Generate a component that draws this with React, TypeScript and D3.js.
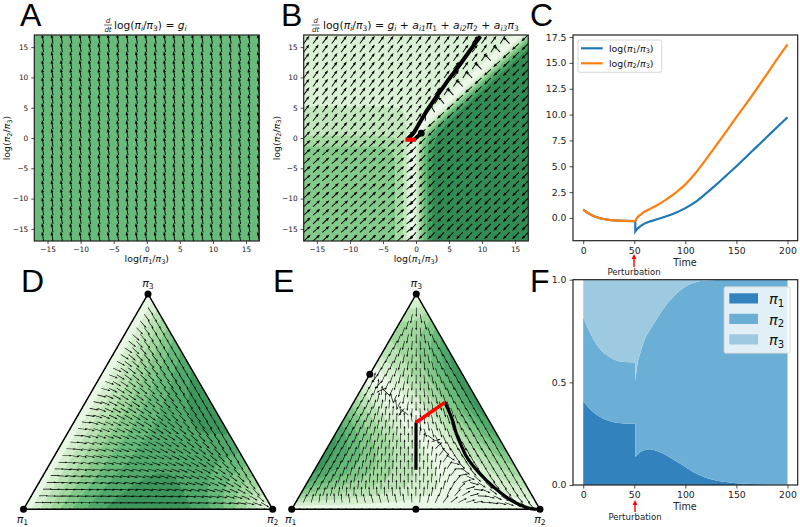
import React, { useEffect, useRef } from "react";
import * as d3 from "d3";

// trajectory of log(pi1/pi3) and log(pi2/pi3), before and after the perturbation
const timePre = [0, 5, 10, 15, 20, 25, 30, 40, 51];
const logPre = [0.8, 0.45, 0.2, 0.02, -0.1, -0.18, -0.24, -0.29, -0.3];
const timePost = [51, 53, 56, 60, 65, 70, 80, 90, 100, 110, 120, 130, 140, 150, 160, 170, 180, 190, 200];
const log1Post = [-1.3, -1.05, -0.8, -0.55, -0.35, -0.2, 0.12, 0.48, 0.95, 1.55, 2.35, 3.2, 4.1, 5.0, 5.95, 6.9, 7.85, 8.8, 9.75];
const log2Post = [-0.3, 0.05, 0.3, 0.6, 0.85, 1.1, 1.7, 2.4, 3.25, 4.35, 5.65, 7.0, 8.35, 9.75, 11.1, 12.5, 13.95, 15.4, 16.8];

// growth rates read from the arrows: no interactions (A, D) and with interactions (B, E)
const growthA: number[] = [-0.13, 0.8];
const growthD: number[] = [-0.03, 0.8];
const vel1: number[] = [-0.46, -0.507];
const vel2: number[] = [0.095, 0.142];
const vel3: number[] = [0.274, 0.274];

const logTicks = [-15, -10, -5, 0, 5, 10, 15];
const cTicksY = [0, 2.5, 5, 7.5, 10, 12.5, 15, 17.5];
const timeTicks = [0, 50, 100, 150, 200];
const fTicksY = [0, 0.5, 1];
const edgeDot = [0.373, 0, 0.627]; // fixed point on the pi1-pi3 edge
const midDot = [0.5, 0.5, 0];

const blues = ["#3182bd", "#6baed6", "#9ecae1"];
const FONT = "DejaVu Sans";

const softmax = (x: number, y: number) => {
  const a = Math.exp(x), b = Math.exp(y), s = a + b + 1;
  return [a / s, b / s, 1 / s];
};

const green = (t: number) => {
  const c = d3.rgb(d3.interpolateGreens(t));
  const m = (v: number) => Math.round(v * 0.85 + 255 * 0.15);
  return `rgb(${m(c.r)},${m(c.g)},${m(c.b)})`;
};

// piecewise growth at composition p with interactions
const mixVel = (p: number[]) => [
  p[0] * vel1[0] + p[1] * vel2[0] + p[2] * vel3[0],
  p[0] * vel1[1] + p[1] * vel2[1] + p[2] * vel3[1],
];

// replicator flow on the simplex for a growth vector (f1, f2, 0)
const simplexFlow = (p: number[], f: number[]) => {
  const fs = [f[0], f[1], 0];
  const m = d3.sum(p, (v, i) => v * fs[i]);
  return p.map((v, i) => v * (fs[i] - m));
};

// tiny markup: *x is italic, _{..} or _x is a subscript
function addMath(sel: any, str: string, size: number) {
  let sub = false;
  const re = /_\{([^}]*)\}|_(.)|\*(.)|([^_*]+)/g;
  let m: RegExpExecArray | null;
  while ((m = re.exec(str))) {
    const t = sel.append("tspan");
    const back = sub ? size * 0.16 : 0;
    const s = m[1] || m[2];
    if (s) {
      t.text(s).attr("font-size", size * 0.7).attr("dy", size * 0.16 - back);
      if (/[a-z]/.test(s)) t.attr("font-style", "italic");
      sub = true;
    } else {
      t.text(m[3] || m[4]);
      if (m[3]) t.attr("font-style", "italic");
      if (sub) t.attr("dy", -back);
      sub = false;
    }
  }
}

function mathLabel(g: any, x: number, y: number, str: string, size: number, opts: any = {}) {
  const t = g
    .append("text")
    .attr("font-family", FONT)
    .attr("font-size", size)
    .attr("fill", opts.fill || "#111")
    .attr("text-anchor", opts.anchor || "middle")
    .attr("transform", `translate(${x},${y})${opts.rotate ? ` rotate(${opts.rotate})` : ""}`)
    .style("white-space", "pre");
  addMath(t, str, size);
  return t;
}

// one quiver arrow with its tail at (x, y), as a path string
function arrowPath(x: number, y: number, ux: number, uy: number, len: number, w: number) {
  const nx = -uy, ny = ux;
  const hl = w * 4, hw = w * 1.5, sw = w * 0.5;
  const pt = (a: number, b: number) => `${(x + ux * a + nx * b).toFixed(2)},${(y + uy * a + ny * b).toFixed(2)}`;
  return `M${pt(0, -sw)}L${pt(len - hl, -sw)}L${pt(len - hl, -hw)}L${pt(len, 0)}L${pt(len - hl, hw)}L${pt(len - hl, sw)}L${pt(0, sw)}Z`;
}

// filled bands of a sampled field
function bands(g: any, field: (u: number, v: number) => number, thresholds: number[], color: (i: number) => string, px: (u: number) => number, py: (v: number) => number) {
  const n = 260;
  const values = new Array(n * n);
  for (let j = 0; j < n; j++) for (let i = 0; i < n; i++) values[j * n + i] = field((i + 0.5) / n, (j + 0.5) / n);
  const shapes = d3.contours().size([n, n]).smooth(true).thresholds(thresholds)(values);
  shapes.forEach((s, i) => {
    const d = s.coordinates
      .map((poly) => poly.map((ring) => "M" + ring.map((c) => `${px(c[0] / n).toFixed(2)},${py(c[1] / n).toFixed(2)}`).join("L") + "Z").join(""))
      .join("");
    g.append("path").attr("d", d).attr("fill", color(i)).attr("stroke", "none");
  });
}

function styleAxis(ax: any, size: number) {
  ax.attr("font-family", FONT).attr("font-size", size);
  ax.select(".domain").remove();
  ax.selectAll("line").attr("stroke", "#222").attr("stroke-width", 0.8);
  ax.selectAll("text").attr("fill", "#222");
}

function frame(g: any, x0: number, y0: number, x1: number, y1: number) {
  g.append("rect")
    .attr("x", x0).attr("y", y0).attr("width", x1 - x0).attr("height", y1 - y0)
    .attr("fill", "none").attr("stroke", "#222").attr("stroke-width", 1.2);
}

function logPanel(svg: any, id: string, left: number, right: number, withModel: boolean) {
  const top = 35, bottom = 241;
  const x = d3.scaleLinear().domain([-17, 17]).range([left, right]);
  const y = d3.scaleLinear().domain([-17, 17]).range([bottom, top]);
  svg.append("clipPath").attr("id", id).append("rect")
    .attr("x", left).attr("y", top).attr("width", right - left).attr("height", bottom - top);
  const g = svg.append("g");
  const inner = g.append("g").attr("clip-path", `url(#${id})`);

  if (withModel) {
    const step = 0.086;
    const thresholds = d3.range(8).map((i) => i * step);
    bands(
      inner,
      (u, v) => {
        const m = mixVel(softmax(x.invert(left + u * (right - left)), y.invert(top + v * (bottom - top))));
        return Math.hypot(m[0], m[1]);
      },
      thresholds,
      (i) => green(1.25 * (i + 0.5) * step + 0.03),
      (u) => left + u * (right - left),
      (v) => top + v * (bottom - top)
    );
  } else {
    inner.append("rect").attr("x", left).attr("y", top).attr("width", right - left).attr("height", bottom - top).attr("fill", green(0.6));
  }

  let d = "";
  const grid = d3.range(25).map((i) => -17 + (i * 34) / 24);
  grid.forEach((gx) =>
    grid.forEach((gy) => {
      const m = withModel ? mixVel(softmax(gx, gy)) : growthA;
      const dx = x(gx + m[0]) - x(gx), dy = y(gy + m[1]) - y(gy);
      const h = Math.hypot(dx, dy) || 1;
      d += arrowPath(x(gx), y(gy), dx / h, dy / h, 9.6, 0.95);
    })
  );
  inner.append("path").attr("d", d).attr("fill", "#000");

  if (withModel) {
    const line = d3.line<number[]>().x((p) => x(p[0])).y((p) => y(p[1])).curve(d3.curveMonotoneX);
    const post = timePost.map((_, i) => [log1Post[i], log2Post[i]]);
    const pre = logPre.map((v) => [v, v]);
    inner.append("path").attr("d", d3.line<number[]>().x((p) => x(p[0])).y((p) => y(p[1]))(post)).attr("fill", "none").attr("stroke", "#000").attr("stroke-width", 4);
    inner.append("path").attr("d", line(pre)).attr("fill", "none").attr("stroke", "#000").attr("stroke-width", 4);
    inner.append("circle").attr("cx", x(logPre[0])).attr("cy", y(logPre[0])).attr("r", 3.4).attr("fill", "#000");
    inner.append("line")
      .attr("x1", x(logPre[logPre.length - 1])).attr("x2", x(log1Post[0]))
      .attr("y1", y(log2Post[0])).attr("y2", y(log2Post[0]))
      .attr("stroke", "#f00").attr("stroke-width", 4).attr("stroke-linecap", "square");
  }
  frame(g, left, top, right, bottom);

  const ax = g.append("g").attr("transform", `translate(0,${bottom})`).call(d3.axisBottom(x).tickValues(logTicks).tickSize(3).tickPadding(3));
  styleAxis(ax, 7.4);
  const ay = g.append("g").attr("transform", `translate(${left},0)`).call(d3.axisLeft(y).tickValues(logTicks).tickSize(3).tickPadding(3));
  styleAxis(ay, 7.4);
  mathLabel(g, (left + right) / 2, 262, "log(*π_1/*π_3)", 9.4);
  mathLabel(g, left - 24, 138, "log(*π_2/*π_3)", 9.4, { rotate: -90 });
}

function title(svg: any, fx: number, tx: number, str: string, size: number) {
  const g = svg.append("g");
  g.append("text").attr("x", fx).attr("y", 22.5).attr("font-family", FONT).attr("font-size", 7).attr("font-style", "italic").attr("text-anchor", "middle").attr("fill", "#111").text("d");
  g.append("line").attr("x1", fx - 4).attr("x2", fx + 4).attr("y1", 25).attr("y2", 25).attr("stroke", "#111").attr("stroke-width", 0.6);
  g.append("text").attr("x", fx).attr("y", 32).attr("font-family", FONT).attr("font-size", 7).attr("font-style", "italic").attr("text-anchor", "middle").attr("fill", "#111").text("dt");
  mathLabel(g, tx, 29, str, size, { anchor: "start" });
}

function simplexPanel(svg: any, id: string, p1: number[], p2: number[], p3: number[], flow: (p: number[]) => number[], levels: number, maxT: number, gamma: number) {
  const pts = [p1, p2, p3];
  const toXY = (p: number[]) => [
    p[0] * p1[0] + p[1] * p2[0] + p[2] * p3[0],
    p[0] * p1[1] + p[1] * p2[1] + p[2] * p3[1],
  ];
  const fromXY = (x: number, y: number) => {
    const c = (p1[1] - y) / (p1[1] - p3[1]);
    const b = (x - p1[0] - c * (p3[0] - p1[0])) / (p2[0] - p1[0]);
    return [1 - b - c, b, c];
  };
  const tri = pts.map((p) => p.join(",")).join(" ");
  svg.append("clipPath").attr("id", id).append("polygon").attr("points", tri);
  const g = svg.append("g");
  const inner = g.append("g").attr("clip-path", `url(#${id})`);
  const speed = (p: number[]) => Math.hypot(...flow(p));

  const x0 = p1[0], x1 = p2[0], y0 = p3[1], y1 = p1[1];
  const px = (u: number) => x0 + u * (x1 - x0), py = (v: number) => y0 + v * (y1 - y0);
  const sampled: number[] = [];
  for (let j = 0; j <= 60; j++) for (let i = 0; i <= 60; i++) {
    const p = fromXY(px(i / 60), py(j / 60));
    if (p[0] >= 0 && p[1] >= 0 && p[2] >= 0) sampled.push(speed(p));
  }
  const top = d3.max(sampled) as number;
  const step = top / levels;
  bands(
    inner,
    (u, v) => speed(fromXY(px(u), py(v))),
    d3.range(levels).map((i) => i * step),
    (i) => green(Math.pow((i + 0.5) / levels, gamma) * maxT + 0.04),
    px,
    py
  );

  const N = 32;
  let d = "";
  for (let r = 0; r <= N; r++) {
    for (let k = 0; k <= N - r; k++) {
      const p = [(N - r - k) / N, k / N, r / N];
      const f = flow(p);
      const dx = f[0] * p1[0] + f[1] * p2[0] + f[2] * p3[0];
      const dy = f[0] * p1[1] + f[1] * p2[1] + f[2] * p3[1];
      const h = Math.hypot(dx, dy);
      if (h < 1e-9) continue;
      const [ax, ay] = toXY(p);
      d += arrowPath(ax, ay, dx / h, dy / h, 9.5, 0.62);
    }
  }
  g.append("polygon").attr("points", tri).attr("fill", "none").attr("stroke", "#000").attr("stroke-width", 1.4);
  g.append("path").attr("d", d).attr("fill", "#000").attr("clip-path", `url(#${id})`);
  pts.forEach((p) => g.append("circle").attr("cx", p[0]).attr("cy", p[1]).attr("r", 3.5).attr("fill", "#000"));
  mathLabel(g, p1[0] - 1, 523, "*π_1", 11);
  mathLabel(g, p2[0], 523, "*π_2", 11);
  mathLabel(g, p3[0], 287, "*π_3", 11);
  return { g, toXY };
}

function perturbationLabel(svg: any, x: number, tipY: number, baseY: number, textY: number) {
  svg.append("line").attr("x1", x).attr("x2", x).attr("y1", baseY).attr("y2", tipY + 3).attr("stroke", "#f00").attr("stroke-width", 1.4);
  svg.append("path").attr("d", `M${x - 2.4},${tipY + 5}L${x},${tipY}L${x + 2.4},${tipY + 5}Z`).attr("fill", "#f00");
  svg.append("text").attr("x", x).attr("y", textY).attr("text-anchor", "middle").attr("font-family", FONT).attr("font-size", 8.6).attr("fill", "#222").text("Perturbation");
}

export default function App() {
  const svgRef = useRef<SVGSVGElement>(null);

  useEffect(() => {
    const svg = d3.select(svgRef.current);
    svg.selectAll("*").remove();

    const letters: [string, number, number][] = [
      ["A", 20, 26], ["B", 281, 26], ["C", 530, 26], ["D", 21, 292], ["E", 273, 292], ["F", 530, 292],
    ];
    letters.forEach(([s, x, y]) =>
      svg.append("text").attr("x", x).attr("y", y).attr("font-family", "Liberation Sans").attr("font-size", 32).attr("fill", "#000").text(s)
    );

    logPanel(svg, "clipA", 34.3, 259.3, false);
    logPanel(svg, "clipB", 303.7, 528.3, true);
    title(svg, 108, 114, "log(*π_i/*π_3) = *g_i", 10.7);
    title(svg, 315.7, 323, "log(*π_i/*π_3) = *g_i + *a_{i1}*π_1 + *a_{i2}*π_2 + *a_{i3}*π_3", 10.8);

    // panel C
    const cx = d3.scaleLinear().domain([-10, 210]).range([573, 797.7]);
    const cy = d3.scaleLinear().domain([-2.2, 17.7]).range([240.7, 35]);
    const cLine = d3.line<number>().curve(d3.curveMonotoneX);
    const series = (a: number[]) => {
      const pre = cLine.x((_, i) => cx(timePre[i])).y((v) => cy(v))(logPre) as string;
      const post = cLine.x((_, i) => cx(timePost[i])).y((v) => cy(v))(a) as string;
      return pre + "L" + post.slice(1);
    };
    svg.append("path").attr("d", series(log1Post)).attr("fill", "none").attr("stroke", "#1f77b4").attr("stroke-width", 2.2);
    svg.append("path").attr("d", series(log2Post)).attr("fill", "none").attr("stroke", "#ff7f0e").attr("stroke-width", 2.2);
    frame(svg, 573, 35, 797.7, 240.7);
    styleAxis(svg.append("g").attr("transform", "translate(0,240.7)").call(d3.axisBottom(cx).tickValues(timeTicks).tickSize(3.5).tickPadding(3)), 9.3);
    styleAxis(svg.append("g").attr("transform", "translate(573,0)").call(d3.axisLeft(cy).tickValues(cTicksY).tickFormat(d3.format(".1f")).tickSize(3.5).tickPadding(3)), 9.3);
    svg.append("text").attr("x", 685).attr("y", 266).attr("text-anchor", "middle").attr("font-family", FONT).attr("font-size", 9.6).attr("fill", "#222").text("Time");
    perturbationLabel(svg, 634, 254, 267, 275);
    svg.append("rect").attr("x", 578).attr("y", 40).attr("width", 83.7).attr("height", 32.3).attr("rx", 2).attr("fill", "#fff").attr("fill-opacity", 0.8).attr("stroke", "#ccc").attr("stroke-width", 0.8);
    [["#1f77b4", 48.3, "log(*π_1/*π_3)"], ["#ff7f0e", 63.3, "log(*π_2/*π_3)"]].forEach(([c, y, s]: any) => {
      svg.append("line").attr("x1", 581).attr("x2", 602.7).attr("y1", y).attr("y2", y).attr("stroke", c).attr("stroke-width", 2.2);
      mathLabel(svg, 609, y + 3.2, s, 9.4, { anchor: "start" });
    });

    // panels D and E
    simplexPanel(svg, "clipD", [23.5, 509.3], [272.7, 509.3], [148, 294], (p) => simplexFlow(p, growthD), 8, 0.78, 0.85);
    const e = simplexPanel(svg, "clipE", [291.7, 509.3], [540, 509.3], [416.3, 294], (p) => simplexFlow(p, mixVel(p)), 8, 0.78, 0.85);
    const preXY = logPre.map((v) => e.toXY(softmax(v, v)) as [number, number]);
    const postXY = timePost.map((_, i) => e.toXY(softmax(log1Post[i], log2Post[i])) as [number, number]);
    const eLine = d3.line().curve(d3.curveCatmullRom);
    e.g.append("path").attr("d", eLine(preXY)).attr("fill", "none").attr("stroke", "#000").attr("stroke-width", 3.2);
    e.g.append("path").attr("d", eLine(postXY)).attr("fill", "none").attr("stroke", "#000").attr("stroke-width", 3.2);
    e.g.append("line")
      .attr("x1", preXY[preXY.length - 1][0]).attr("y1", preXY[preXY.length - 1][1])
      .attr("x2", postXY[0][0]).attr("y2", postXY[0][1])
      .attr("stroke", "#f00").attr("stroke-width", 3.6);
    [midDot, edgeDot].forEach((p) => {
      const [x, y] = e.toXY(p);
      e.g.append("circle").attr("cx", x).attr("cy", y).attr("r", 3.5).attr("fill", "#000");
    });

    // panel F: each layer is one path, so the step at the perturbation has no seam
    const fx = d3.scaleLinear().domain([-10, 210]).range([573, 797.7]);
    const fy = d3.scaleLinear().domain([0, 1]).range([485, 279.7]);
    const rowsOf = (t: number[], a: number[], b: number[]) =>
      t.map((time, i) => {
        const p = softmax(a[i], b[i]);
        return { time, p1: p[0], p2: p[1], p3: p[2] };
      });
    const keys = ["p1", "p2", "p3"];
    const layersPre = d3.stack<any>().keys(keys)(rowsOf(timePre, logPre, logPre));
    const layersPost = d3.stack<any>().keys(keys)(rowsOf(timePost, log1Post, log2Post));
    const edge = d3.line<any>().x((d) => fx(d.data.time)).curve(d3.curveMonotoneX);
    keys.forEach((_, k) => {
      const upper = edge.y((d) => fy(d[1]));
      const upPre = upper(layersPre[k] as any) as string;
      const upPost = upper(layersPost[k] as any) as string;
      const lower = edge.y((d) => fy(d[0]));
      const lowPost = lower([...layersPost[k]].reverse() as any) as string;
      const lowPre = lower([...layersPre[k]].reverse() as any) as string;
      const d = upPre + "L" + upPost.slice(1) + "L" + lowPost.slice(1) + "L" + lowPre.slice(1) + "Z";
      svg.append("path").attr("d", d).attr("fill", blues[k]);
    });
    frame(svg, 573, 279.7, 797.7, 485);
    styleAxis(svg.append("g").attr("transform", "translate(0,485)").call(d3.axisBottom(fx).tickValues(timeTicks).tickSize(3.5).tickPadding(3)), 9.3);
    styleAxis(svg.append("g").attr("transform", "translate(573,0)").call(d3.axisLeft(fy).tickValues(fTicksY).tickFormat(d3.format(".1f")).tickSize(3.5).tickPadding(3)), 9.3);
    svg.append("text").attr("x", 685).attr("y", 510).attr("text-anchor", "middle").attr("font-family", FONT).attr("font-size", 9.6).attr("fill", "#222").text("Time");
    perturbationLabel(svg, 635, 500, 512, 520);
    svg.append("rect").attr("x", 724).attr("y", 286.7).attr("width", 66).attr("height", 66.6).attr("rx", 2).attr("fill", "#fff").attr("fill-opacity", 0.8).attr("stroke", "#ccc").attr("stroke-width", 0.8);
    ["1", "2", "3"].forEach((s, i) => {
      const y = 293.3 + i * 20.5;
      svg.append("rect").attr("x", 729.3).attr("y", y).attr("width", 28.7).attr("height", 10.2).attr("fill", blues[i]);
      mathLabel(svg, 769, y + 11, `*π_${s}`, 14.5, { anchor: "start" });
    });
  }, []);

  return <svg ref={svgRef} width={800} height={527} style={{ position: "absolute", left: 0, top: 0, background: "#fff" }} />;
}
